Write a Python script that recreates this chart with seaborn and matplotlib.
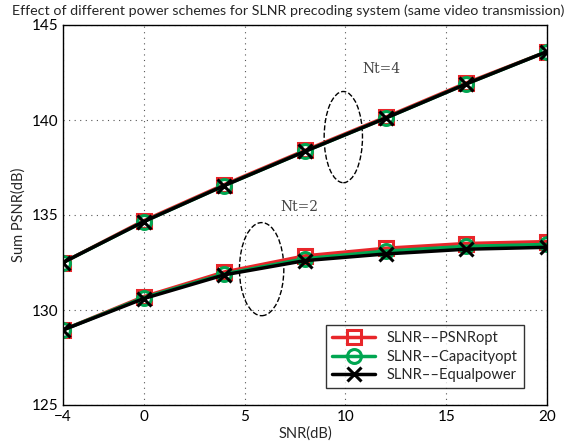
import numpy as np
import pandas as pd
import seaborn as sns
import matplotlib.pyplot as plt
from matplotlib.patches import Ellipse

# Data
snr = [-4, 0, 4, 8, 12, 16, 20]
nt4_psnr = [132.5, 134.7, 136.6, 138.4, 140.15, 141.95, 143.6]
nt4_cap = [132.5, 134.65, 136.55, 138.35, 140.1, 141.9, 143.6]
nt4_eq = [132.5, 134.65, 136.55, 138.35, 140.1, 141.9, 143.6]
nt2_psnr = [128.95, 130.7, 132.0, 132.85, 133.25, 133.5, 133.6]
nt2_cap = [128.95, 130.65, 131.9, 132.7, 133.1, 133.35, 133.45]
nt2_eq = [128.95, 130.6, 131.85, 132.6, 132.95, 133.2, 133.3]

schemes = ['SLNR\u2013\u2013PSNRopt', 'SLNR\u2013\u2013Capacityopt', 'SLNR\u2013\u2013Equalpower']
colors = ['#e8262a', '#00a651', '#000000']
markers = ['s', 'o', 'x']

rows = []
for name, a, b in zip(schemes, [nt4_psnr, nt4_cap, nt4_eq], [nt2_psnr, nt2_cap, nt2_eq]):
    for x, y in zip(snr, a):
        rows.append({'SNR': x, 'PSNR': y, 'scheme': name, 'Nt': 4})
    for x, y in zip(snr, b):
        rows.append({'SNR': x, 'PSNR': y, 'scheme': name, 'Nt': 2})
data = pd.DataFrame(rows)

sns.set_style('white')
plt.rcParams['font.family'] = ['Lato', 'DejaVu Sans']

fig = plt.figure(figsize=(5.79, 4.45), dpi=100)
ax = fig.add_axes([63 / 579, 40 / 445, 484 / 579, 380 / 445])

for name, c, m in zip(schemes, colors, markers):
    for nt in [4, 2]:
        sub = data[(data.scheme == name) & (data.Nt == nt)]
        sns.lineplot(x='SNR', y='PSNR', data=sub, color=c, linewidth=2.5,
                     marker=m, markersize=10, markeredgewidth=2.2,
                     markerfacecolor='none', markeredgecolor=c,
                     ax=ax, label=name if nt == 4 else None)

ax.set_xlim(-4, 20)
ax.set_ylim(125, 145)
ax.set_xticks([-4, 0, 5, 10, 15, 20])
ax.set_yticks([125, 130, 135, 140, 145])
ax.grid(True, linestyle=(0, (1, 4)), color='#555555', linewidth=0.8)
for s in ax.spines.values():
    s.set_color('black')
    s.set_linewidth(1.0)
ax.tick_params(direction='in', length=4, labelsize=11, colors='black')

# dashed ellipses and labels
ax.add_patch(Ellipse((9.9, 139.1), 1.9, 4.8, fill=False, linestyle='--', edgecolor='black', linewidth=1))
ax.add_patch(Ellipse((5.85, 132.15), 2.2, 4.9, fill=False, linestyle='--', edgecolor='black', linewidth=1))
ax.text(11.8, 142.7, 'Nt=4', family='DejaVu Serif', fontsize=10, color='#444444', ha='center', va='center')
ax.text(7.7, 135.4, 'Nt=2', family='DejaVu Serif', fontsize=10, color='#444444', ha='center', va='center')

ax.set_xlabel('SNR(dB)', fontsize=10.5, labelpad=2)
ax.set_ylabel('Sum PSNR(dB)', fontsize=10.5)
fig.text(0.497, 0.975, 'Effect of different power schemes for SLNR precoding system (same video transmission)',
         fontsize=10.3, ha='center', va='center')

leg = ax.legend(loc='lower right', fontsize=10.5, frameon=True, fancybox=False, edgecolor='black',
                bbox_to_anchor=(0.952, 0.045), borderaxespad=0, handlelength=3,
                borderpad=0.4, labelspacing=0.3)
leg.get_frame().set_linewidth(1.0)

fig.savefig('out.png', dpi=100)
